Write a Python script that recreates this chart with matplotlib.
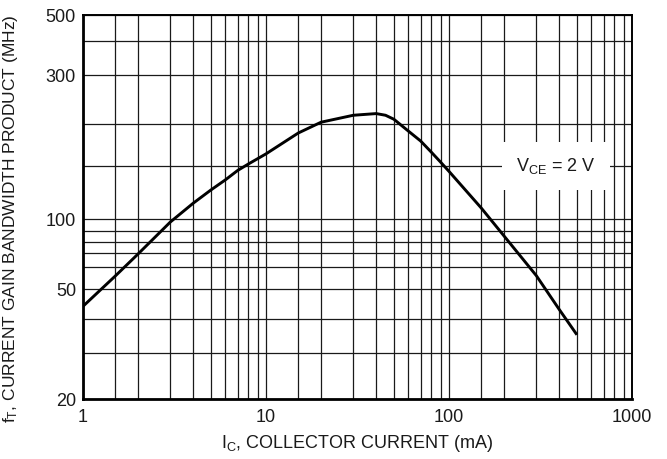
import numpy as np
import matplotlib
matplotlib.use("Agg")
import matplotlib.pyplot as plt
from matplotlib.ticker import FixedLocator, FixedFormatter, NullLocator

# fT vs IC, datasheet style log-log chart

IC_MA = [1, 1.5, 2, 3, 4, 5, 6, 7, 8, 10, 15, 20, 30, 40, 45, 50,
         60, 70, 80, 90, 100, 150, 200, 300, 400, 500]
FT_MHZ = [44, 55.8, 69.3, 97.5, 113, 125, 135, 145, 152, 163, 188, 203, 215, 218, 215, 208,
          190.5, 178, 165, 154, 144, 109, 85, 56, 43, 35]

X_GRID = [1, 1.5, 2, 3, 4, 5, 6, 7, 8, 9,
          10, 15, 20, 30, 40, 50, 60, 70, 80, 90,
          100, 150, 200, 300, 400, 500, 600, 700, 800, 900, 1000]
X_LABELS = [1, 10, 100, 1000]
Y_GRID = [20, 30, 40, 50, 60, 70, 80, 90, 100, 150, 200, 300, 400, 500]
Y_LABELS = [20, 50, 100, 300, 500]

# el eje y impreso no es un log limpio: altura relativa de cada linea de la grilla
Y_ALTURA = [0, 46, 80, 109.7, 131.7, 146, 157.3, 168.3, 179.7, 233, 275, 324, 358, 384]


def _interp_ext(v, xs, ys):
    xs = np.asarray(xs, dtype=float)
    ys = np.asarray(ys, dtype=float)
    v = np.asarray(v, dtype=float)
    out = np.interp(v, xs, ys)
    s0 = (ys[1] - ys[0]) / (xs[1] - xs[0])
    s1 = (ys[-1] - ys[-2]) / (xs[-1] - xs[-2])
    out = np.where(v < xs[0], ys[0] + (v - xs[0]) * s0, out)
    out = np.where(v > xs[-1], ys[-1] + (v - xs[-1]) * s1, out)
    return out


LOG_Y_GRID = np.log10(Y_GRID)


def _fwd(y):
    y = np.clip(np.asarray(y, dtype=float), 1e-9, None)
    return _interp_ext(np.log10(y), LOG_Y_GRID, Y_ALTURA)


def _inv(p):
    return 10 ** _interp_ext(p, Y_ALTURA, LOG_Y_GRID)


plt.rcParams['font.family'] = ['Liberation Sans', 'DejaVu Sans']
plt.rcParams['mathtext.fontset'] = 'custom'
plt.rcParams['mathtext.rm'] = 'Liberation Sans'
plt.rcParams['mathtext.it'] = 'Liberation Sans'

fig = plt.figure(figsize=(6.67, 4.59), dpi=100)
ax = fig.add_axes([83 / 667, 1 - 399 / 459, (632 - 83) / 667, (399 - 15) / 459])

ax.set_xscale('log')
ax.set_yscale('function', functions=(_fwd, _inv))
ax.set_xlim(1, 1000)
ax.set_ylim(20, 500)

ax.xaxis.set_major_locator(FixedLocator(X_GRID))
ax.xaxis.set_major_formatter(FixedFormatter([str(v) if v in X_LABELS else '' for v in X_GRID]))
ax.xaxis.set_minor_locator(NullLocator())
ax.yaxis.set_major_locator(FixedLocator(Y_GRID))
ax.yaxis.set_major_formatter(FixedFormatter([str(v) if v in Y_LABELS else '' for v in Y_GRID]))
ax.yaxis.set_minor_locator(NullLocator())

ax.grid(True, which='major', color='#1a1a1a', linewidth=0.9)
ax.tick_params(axis='both', length=0, labelsize=13, colors='#1a1a1a')
ax.tick_params(axis='x', pad=7)
ax.tick_params(axis='y', pad=5)
for lado in ['left', 'bottom']:
    ax.spines[lado].set_linewidth(2.0)
for lado in ['top', 'right']:
    ax.spines[lado].set_linewidth(1.4)

ax.plot(IC_MA, FT_MHZ, color='black', linewidth=2.1, solid_capstyle='butt',
        solid_joinstyle='round', zorder=3)

ax.text(385, 150, r'V$_\mathrm{CE}$ = 2 V', fontsize=13, ha='center', va='center',
        color='#1a1a1a', zorder=4,
        bbox=dict(boxstyle='square,pad=0.8', facecolor='white', edgecolor='none'))

ax.set_xlabel(r'I$_\mathrm{C}$, COLLECTOR CURRENT (mA)', fontsize=13, labelpad=5, color='#1a1a1a')
ax.set_ylabel(r'f$_\mathrm{T}$, CURRENT GAIN BANDWIDTH PRODUCT (MHz)', fontsize=12.5, color='#1a1a1a')
ax.yaxis.set_label_coords(-0.115, 0.47)

plt.savefig('out.png', dpi=100)
plt.close()
